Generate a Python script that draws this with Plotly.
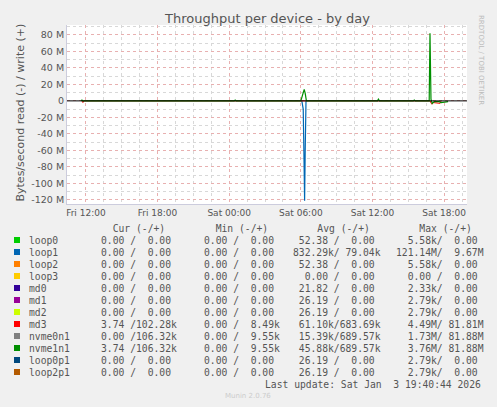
import plotly.graph_objects as go

# ---- data (read plotted negative, write positive)
loop1_t = ["2026-01-03 06:05", "2026-01-03 06:12", "2026-01-03 06:16", "2026-01-03 06:19", "2026-01-03 06:22", "2026-01-03 06:26"]
loop1_v = [0, -10e6, -70e6, -121e6, -60e6, 0]

nvme1_t = ["2026-01-02 11:35", "2026-01-02 11:40", "2026-01-02 11:45",
           "2026-01-03 00:25", "2026-01-03 00:30", "2026-01-03 00:35",
           "2026-01-03 06:00", "2026-01-03 06:06", "2026-01-03 06:12", "2026-01-03 06:17", "2026-01-03 06:22", "2026-01-03 06:28",
           "2026-01-03 12:25", "2026-01-03 12:30", "2026-01-03 12:35",
           "2026-01-03 15:25", "2026-01-03 15:30", "2026-01-03 15:35",
           "2026-01-03 16:45", "2026-01-03 16:49", "2026-01-03 16:54", "2026-01-03 17:00", "2026-01-03 17:10",
           "2026-01-03 17:20", "2026-01-03 17:35", "2026-01-03 17:45", "2026-01-03 18:10", "2026-01-03 18:20"]
nvme1_v = [0, 1e6, 0,
           0, 1e6, 0,
           0, 6e6, 11e6, 14e6, 9e6, 0,
           0, 2e6, 0,
           0, 1e6, 0,
           0, 82e6, 2e6, -3e6, -1e6,
           -1e6, -1e6, -2e6, -1e6, -1e6]

md3_t = ["2026-01-02 11:40", "2026-01-02 11:45", "2026-01-02 11:50",
         "2026-01-03 16:50", "2026-01-03 16:55", "2026-01-03 17:00", "2026-01-03 17:05", "2026-01-03 17:40", "2026-01-03 17:45"]
md3_v = [0, -2e6, 0, 0, -3e6, -4e6, -2e6, -3e6, 0]

x_range = ["2026-01-02 10:25", "2026-01-03 19:55"]
y_ticks = [80e6, 60e6, 40e6, 20e6, 0, -20e6, -40e6, -60e6, -80e6, -100e6, -120e6]
y_labels = ["80 M", "60 M", "40 M", "20 M", "0", "-20 M", "-40 M", "-60 M", "-80 M", "-100 M", "-120 M"]
x_ticks = ["2026-01-02 12:00", "2026-01-02 18:00", "2026-01-03 00:00", "2026-01-03 06:00", "2026-01-03 12:00", "2026-01-03 18:00"]
x_labels = ["Fri 12:00", "Fri 18:00", "Sat 00:00", "Sat 06:00", "Sat 12:00", "Sat 18:00"]

names = ["loop0", "loop1", "loop2", "loop3", "md0", "md1", "md2", "md3", "nvme0n1", "nvme1n1", "loop0p1", "loop2p1"]
colors = ["#00cc00", "#0066b3", "#ff8000", "#ffcc00", "#330099", "#990099", "#ccff00", "#ff0000", "#808080", "#008f00", "#00487d", "#b35a00"]
cur = ["0.00 /  0.00", "0.00 /  0.00", "0.00 /  0.00", "0.00 /  0.00", "0.00 /  0.00", "0.00 /  0.00",
       "0.00 /  0.00", "3.74 /102.28k", "0.00 /106.32k", "3.74 /106.32k", "0.00 /  0.00", "0.00 /  0.00"]
mins = ["0.00 /  0.00"] * 7 + ["0.00 /  8.49k", "0.00 /  9.55k", "0.00 /  9.55k", "0.00 /  0.00", "0.00 /  0.00"]
avgs = [" 52.38 /  0.00", "832.29k/ 79.04k", " 52.38 /  0.00", "  0.00 /  0.00", " 21.82 /  0.00", " 26.19 /  0.00",
        " 26.19 /  0.00", " 61.10k/683.69k", " 15.39k/689.57k", " 45.88k/689.57k", " 26.19 /  0.00", " 26.19 /  0.00"]
maxs = ["  5.58k/  0.00", "121.14M/  9.67M", "  5.58k/  0.00", "  0.00 /  0.00", "  2.33k/  0.00", "  2.79k/  0.00",
        "  2.79k/  0.00", "  4.49M/ 81.81M", "  1.73M/ 81.88M", "  3.76M/ 81.88M", "  2.79k/  0.00", "  2.79k/  0.00"]

W, H = 497, 407
L, R, T, B = 67, 30, 25, 203
pw, ph = W - L - R, H - T - B

def px(x):
    return (x - L) / pw

def py(y):
    return 1 - (y - T) / ph

fig = go.Figure()
fig.add_trace(go.Scatter(x=loop1_t, y=loop1_v, mode="lines", line=dict(color="#0066b3", width=1.2)))
fig.add_trace(go.Scatter(x=md3_t, y=md3_v, mode="lines", line=dict(color="#ff0000", width=1)))
fig.add_trace(go.Scatter(x=nvme1_t, y=nvme1_v, mode="lines", line=dict(color="#008f00", width=1.2)))

mono = "DejaVu Sans Mono"
ann = []
ann.append(dict(x=0.5, y=py(18), text="Throughput per device - by day", showarrow=False,
                font=dict(family="DejaVu Sans", size=13, color="#555")))
ann.append(dict(x=px(487), y=py(60), text="RRDTOOL / TOBI OETIKER", textangle=90, showarrow=False,
                font=dict(family="DejaVu Sans", size=7, color="#bbb")))
ann.append(dict(x=px(12), y=py(113), text="Bytes/second read (-) / write (+)", textangle=-90, showarrow=False,
                font=dict(family="DejaVu Sans", size=11, color="#555")))
hdr = [(99, "  Cur (-/+)"), (202, "  Min (-/+)"), (292, "    Avg (-/+)"), (394, "    Max (-/+)")]
for x, t in hdr:
    ann.append(dict(x=px(x), y=py(228), text=t.replace(" ", "&nbsp;"), xanchor="left", showarrow=False,
                    font=dict(family=mono, size=9.7, color="#555")))
shapes = []
for i, n in enumerate(names):
    yy = 240 + i * 12
    shapes.append(dict(type="rect", xref="paper", yref="paper", x0=px(14), x1=px(20), y0=py(yy + 3), y1=py(yy - 3),
                       fillcolor=colors[i], line=dict(width=0)))
    for x, t in [(27, n), (99, cur[i]), (202, mins[i]), (291, avgs[i]), (394, maxs[i])]:
        ann.append(dict(x=px(x), y=py(yy), text=t.replace(" ", "&nbsp;"), xanchor="left", showarrow=False,
                        font=dict(family=mono, size=9.7, color="#555")))
ann.append(dict(x=px(483), y=py(384), text="Last update: Sat Jan  3 19:40:44 2026".replace(" ", "&nbsp;"),
                xanchor="right", showarrow=False, font=dict(family=mono, size=9.7, color="#555")))
ann.append(dict(x=px(248), y=py(396), text="Munin 2.0.76", showarrow=False,
                font=dict(family="DejaVu Sans", size=7, color="#ccc")))
for a in ann:
    a.setdefault("xref", "paper")
    a.setdefault("yref", "paper")
    a.setdefault("yanchor", "middle")
shapes.append(dict(type="line", xref="paper", yref="y", x0=0, x1=1, y0=0, y1=0, line=dict(color="black", width=1)))

fig.update_layout(
    width=W, height=H, autosize=False, margin=dict(l=L, r=R, t=T, b=B, autoexpand=False),
    paper_bgcolor="#f0f0f0", plot_bgcolor="white", showlegend=False,
    annotations=ann, shapes=shapes,
    xaxis=dict(type="date", range=x_range, tickvals=x_ticks, ticktext=x_labels, automargin=False,
               showgrid=True, gridcolor="#e8b0b0", griddash="dot", gridwidth=1,
               minor=dict(dtick=5400000, showgrid=True, gridcolor="#d8d8d8", griddash="dot"),
               tickfont=dict(family="DejaVu Sans", size=9, color="#555"), ticks="", ticklabelstandoff=0,
               showline=True, linecolor="#ccd", fixedrange=True),
    yaxis=dict(range=[-125e6, 92e6], tickvals=y_ticks, ticktext=y_labels, zeroline=False, automargin=False,
               showgrid=True, gridcolor="#e8b0b0", griddash="dot",
               minor=dict(dtick=10e6, showgrid=True, gridcolor="#d8d8d8", griddash="dot"),
               tickfont=dict(family="DejaVu Sans", size=9.5, color="#555"), ticks="",
               showline=True, linecolor="#ccd", fixedrange=True),
)

fig.write_html("out.html", config={"displayModeBar": False, "responsive": False},
               post_script="document.body.style.margin='0';document.body.style.overflow='hidden';")
